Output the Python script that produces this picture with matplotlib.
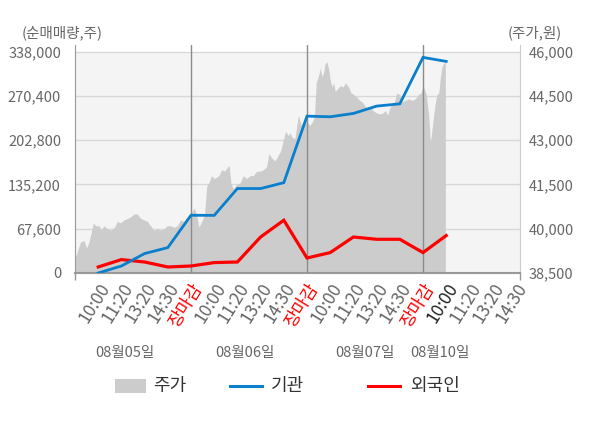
import numpy as np
import matplotlib
matplotlib.use("Agg")
import matplotlib.pyplot as plt
from matplotlib.lines import Line2D
from matplotlib.patches import Rectangle

plt.rcParams['font.family'] = ['Noto Sans CJK KR', 'DejaVu Sans']

# ---------------- data ----------------
tick_labels = ['10:00', '11:20', '13:20', '14:30', '장마감',
               '10:00', '11:20', '13:20', '14:30', '장마감',
               '10:00', '11:20', '13:20', '14:30', '장마감',
               '10:00', '11:20', '13:20', '14:30']
day_labels = ['08월05일', '08월06일', '08월07일', '08월10일']

inst = [0, 10700, 29700, 38800, 88200, 88000, 129000, 129000, 138000,
        239600, 238600, 243700, 254900, 258400, 329300, 323200]
foreign = [9200, 20500, 16800, 9200, 10700, 15900, 16800, 55000, 80600,
           22900, 31200, 55000, 51500, 51500, 31200, 57200]

# intraday price (minutes after 09:00, price in won)
day1_min = [0, 10, 19, 30, 39, 47, 55, 62, 69, 81, 88, 97, 109, 120, 133, 142, 153, 165, 176, 187,
            198, 209, 221, 232, 243, 254, 265, 277, 288, 299, 310, 322, 333, 344, 355, 366, 377, 389]
day1_px = [39000, 39300, 39550, 39600, 39350, 39550, 39900, 40200, 40100, 40100,
           39950, 40100, 40000, 39950, 40050, 40250, 40200, 40300, 40350, 40400,
           40500, 40500, 40350, 40300, 40250, 40100, 39950, 40000, 39950, 40000,
           40100, 40100, 40050, 40100, 40300, 40250, 40400, 40500]
day2_min = [2, 11, 19, 27, 36, 45, 53, 60, 69, 78, 86, 94, 103, 112, 120, 128, 134, 142, 153, 165,
            176, 187, 198, 209, 221, 232, 243, 254, 262, 271, 282, 291, 302, 310, 318, 327, 333, 340,
            349, 361, 370, 377, 385, 390]
day2_px = [40550, 40700, 40450, 40050, 40250, 40450, 41450, 41550, 41800, 41700,
           41750, 41800, 42000, 41950, 42050, 42150, 41550, 41350, 41500, 41550,
           41800, 41700, 41800, 41800, 41950, 41950, 42000, 42100, 42550, 42400,
           42300, 42450, 42650, 43000, 43300, 43150, 43250, 43100, 43050, 43850,
           43500, 43600, 43700, 43450]
day3_min = [2, 9, 17, 25, 31, 39, 45, 50, 56, 61, 67, 73, 78, 84, 89, 95, 103, 112, 121, 129,
            140, 148, 157, 168, 177, 185, 192, 201, 213, 222, 230, 241, 252, 263, 271, 280, 291, 302,
            311, 319, 330, 341, 353, 364, 375, 383, 389]
day3_px = [43600, 43500, 43600, 43800, 44950, 45200, 45450, 45150, 45300, 45600,
           45650, 45400, 45050, 44800, 44950, 44650, 44750, 44850, 44800, 44950,
           44800, 44600, 44550, 44450, 44350, 44300, 44200, 44100, 44150, 44000,
           43950, 43900, 43900, 44000, 43850, 44150, 44200, 44600, 44550, 44300,
           44350, 44400, 44350, 44400, 44550, 44600, 44800]
day4_min = [0, 4, 11, 19, 25, 30, 36, 41, 47, 53, 58, 64, 69, 75]
day4_px = [44800, 44750, 44550, 43850, 42900, 43350, 43850, 44250, 44550, 44600,
           45100, 45500, 45600, 45650]

left_ticks = [0, 67600, 135200, 202800, 270400, 338000]
right_ticks = [38500, 40000, 41500, 43000, 44500, 46000]

# ---------------- figure ----------------
fig = plt.figure(figsize=(6, 4.28), dpi=100)
L, R = 75 / 600, 520 / 600
B, T = 1 - 273 / 428, 1 - 45 / 428
ax2 = fig.add_axes([L, B, R - L, T - B])   # price axis (drawn beneath)
ax = fig.add_axes([L, B, R - L, T - B], sharex=ax2)  # investor axis (on top)
ax.patch.set_visible(False)

xmin, xmax = -1, 18.18
ax2.set_xlim(xmin, xmax)
ax2.set_ylim(38500, 46227)
ax.set_ylim(0, 348250)

# background region and grid on price axis
ax2.set_facecolor('white')
ax2.axhspan(38500, 46000, color='#f4f4f4', zorder=0, lw=0)
for v in right_ticks[1:]:
    ax2.axhline(v, color='#d8d8d8', lw=1, zorder=1)

days_min = [day1_min, day2_min, day3_min, day4_min]
days_px = [day1_px, day2_px, day3_px, day4_px]
xs, ps = [], []
for d, (mins, pxs) in enumerate(zip(days_min, days_px)):
    xs.extend([5 * d - 1 + m / 390 * 5 for m in mins])
    ps.extend(pxs)
ax2.fill_between(xs, ps, 38500, color='#cccccc', lw=0, zorder=2)

# day separators
for b in [4, 9, 14]:
    ax.axvline(b, color='#8c8c8c', lw=1, zorder=3)

xi = np.arange(len(inst))
ax.plot(xi, inst, color='#0a7fcc', lw=2, zorder=5, solid_joinstyle='miter')
ax.plot(xi, foreign, color='#ff0000', lw=2.3, zorder=4, solid_joinstyle='miter')

# ticks
ax.set_yticks(left_ticks)
ax.set_yticklabels([f'{v:,}' for v in left_ticks])
ax2.yaxis.tick_right()
ax2.set_yticks(right_ticks)
ax2.set_yticklabels([f'{v:,}' for v in right_ticks])
ax.tick_params(axis='y', length=0, pad=10, labelsize=10.5, labelcolor='#666666')
ax2.tick_params(axis='y', length=0, pad=6, labelsize=10.5, labelcolor='#666666')

ax2.set_xticks(np.arange(len(tick_labels)))
ax2.set_xticklabels(tick_labels)
ax2.set_xticks([-1, 4, 9, 14, xmax], minor=True)
ax2.tick_params(axis='x', which='minor', length=5, color='#999999', width=1)
ax2.tick_params(axis='x', which='major', length=0, pad=5, labelsize=12.5, labelcolor='#666666')
for i, lab in enumerate(ax2.get_xticklabels()):
    lab.set_rotation(58)
    lab.set_ha('right')
    lab.set_va('top')
    lab.set_rotation_mode('anchor')
    if tick_labels[i] == '장마감':
        lab.set_color('#ff0000')
    elif i == 15:
        lab.set_color('#222222')
ax.tick_params(axis='x', which='both', length=0, labelbottom=False)

for a in (ax, ax2):
    for s in a.spines.values():
        s.set_visible(False)
ax2.spines['left'].set_visible(True)
ax2.spines['left'].set_color('#999999')
ax2.spines['bottom'].set_visible(True)
ax2.spines['bottom'].set_color('#999999')
ax2.spines['bottom'].set_linewidth(1.5)
ax2.spines['right'].set_visible(True)
ax2.spines['right'].set_color('#cccccc')

# axis titles
fig.text(22 / 600, 1 - 33 / 428, '(순매매량,주)', fontsize=10.5, color='#666666', va='center', ha='left')
fig.text(562 / 600, 1 - 33 / 428, '(주가,원)', fontsize=10.5, color='#666666', va='center', ha='right')

# day labels
for lab, px in zip(day_labels, [125, 245, 365, 440]):
    fig.text(px / 600, 1 - 353 / 428, lab, fontsize=10.5, color='#666666', ha='center', va='center')

# legend
ly = 1 - 386 / 428
fig.add_artist(Rectangle((115 / 600, 1 - 393 / 428), 31 / 600, 14 / 428,
                         transform=fig.transFigure, color='#cccccc', lw=0))
fig.text(153 / 600, ly, '주가', fontsize=13, color='#333333', va='center', ha='left')
fig.add_artist(Line2D([230 / 600, 262 / 600], [ly, ly], transform=fig.transFigure, color='#0a7fcc', lw=2.2))
fig.text(271 / 600, ly, '기관', fontsize=13, color='#333333', va='center', ha='left')
fig.add_artist(Line2D([368 / 600, 400 / 600], [ly, ly], transform=fig.transFigure, color='#ff0000', lw=2.2))
fig.text(410 / 600, ly, '외국인', fontsize=13, color='#333333', va='center', ha='left')

fig.savefig('out.png', dpi=100)
